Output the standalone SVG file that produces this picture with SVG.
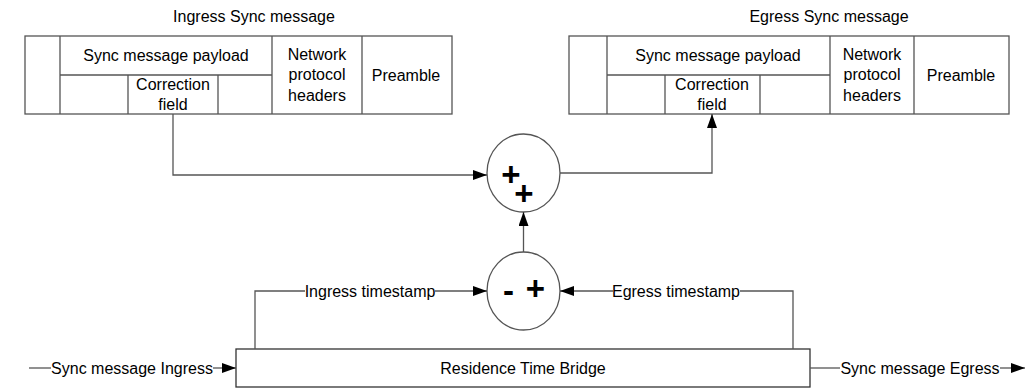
<svg xmlns="http://www.w3.org/2000/svg" width="1035" height="391" viewBox="0 0 1035 391">
<style>
text{font-family:"Liberation Sans",Arial,sans-serif;font-size:16px;fill:#000;text-anchor:middle}
.box{fill:#fff;stroke:#555;stroke-width:1.3}
.ln{fill:none;stroke:#555;stroke-width:1.3}
.op{font-size:33px;font-weight:bold}
</style>
<defs>
<marker id="ah" viewBox="0 0 14 10" refX="14" refY="5" markerWidth="14" markerHeight="10" markerUnits="userSpaceOnUse" orient="auto">
<path d="M0,0 L14,5 L0,10 Z" fill="#000"/>
</marker>
</defs>
<rect width="1035" height="391" fill="#fff"/>

<g id="ingress-msg">
<text x="254" y="22">Ingress Sync message</text>
<rect class="box" x="25" y="36" width="427" height="78"/>
<path class="ln" d="M60,36V114 M272,36V114 M362,36V114 M60,75H272 M128,75V114 M218,75V114"/>
<text x="166" y="61">Sync message payload</text>
<text x="173" y="90">Correction</text>
<text x="173" y="110">field</text>
<text x="317" y="60">Network</text>
<text x="317" y="80">protocol</text>
<text x="317" y="101">headers</text>
<text x="406" y="81">Preamble</text>
</g>

<g id="egress-msg">
<text x="829" y="22">Egress Sync message</text>
<rect class="box" x="569" y="36" width="440" height="78"/>
<path class="ln" d="M607,36V114 M830,36V114 M914,36V114 M607,75H830 M665,75V114 M760,75V114"/>
<text x="718" y="61">Sync message payload</text>
<text x="712" y="90">Correction</text>
<text x="712" y="110">field</text>
<text x="872" y="60">Network</text>
<text x="872" y="80">protocol</text>
<text x="872" y="101">headers</text>
<text x="961" y="81">Preamble</text>
</g>

<g id="adder">
<ellipse class="box" cx="523.5" cy="173" rx="36.5" ry="39"/>
<text class="op"><tspan x="511" y="185.5">+</tspan><tspan x="524" y="204.5">+</tspan></text>
</g>

<g id="subtractor">
<ellipse class="box" cx="523.5" cy="291" rx="36.5" ry="39"/>
<text class="op"><tspan x="508.5" y="302">-</tspan><tspan x="535.5" y="299.5">+</tspan></text>
</g>

<g id="bridge">
<rect x="236" y="349" width="574" height="38" fill="#fff" stroke="#333" stroke-width="1.3"/>
<text x="523" y="374">Residence Time Bridge</text>
</g>

<g id="connectors">
<path class="ln" d="M173,114V175H487" marker-end="url(#ah)"/>
<path class="ln" d="M560,173H712V114" marker-end="url(#ah)"/>
<path class="ln" d="M523.5,252V212" marker-end="url(#ah)"/>
<path class="ln" d="M255,349V291H305"/>
<text x="370" y="297">Ingress timestamp</text>
<path class="ln" d="M435,291H487" marker-end="url(#ah)"/>
<path class="ln" d="M793,349V291H740"/>
<text x="676" y="297">Egress timestamp</text>
<path class="ln" d="M613,291H560" marker-end="url(#ah)"/>
<path class="ln" d="M29,368H51"/>
<text x="132" y="374">Sync message Ingress</text>
<path class="ln" d="M213,368H236" marker-end="url(#ah)"/>
<path class="ln" d="M810,368H840"/>
<text x="920" y="374">Sync message Egress</text>
<path class="ln" d="M1000,368H1025" marker-end="url(#ah)"/>
</g>
</svg>
